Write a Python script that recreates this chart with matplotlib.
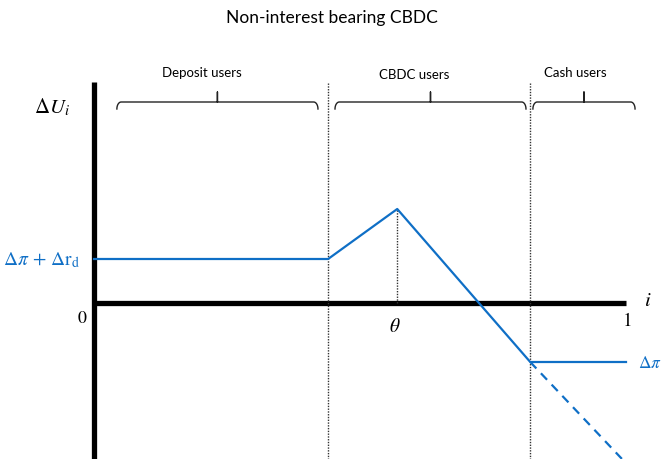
import matplotlib
matplotlib.use("Agg")
import matplotlib.pyplot as plt
import numpy as np

plt.rcParams['font.family'] = ['Lato', 'DejaVu Sans']
plt.rcParams['mathtext.fontset'] = 'stix'

# Thresholds on the i axis (0..1)
i_deposit = 0.44      # deposit / CBDC boundary
i_theta = 0.57        # theta
i_cash = 0.82         # CBDC / cash boundary

# Utility values
u_deposit = 0.44      # Δπ + Δr_d
u_peak = 0.94         # value at theta
u_cash = -0.59        # Δπ
u_dash_end = -1.56    # end of dashed continuation
i_dash_end = 0.9925

curve_x = [0.0, i_deposit, i_theta, i_cash, 1.0]
curve_y = [u_deposit, u_deposit, u_peak, u_cash, u_cash]
dash_x = [i_cash, i_dash_end]
dash_y = [u_cash, u_dash_end]

groups = ["Deposit users", "CBDC users", "Cash users"]
brace_left = [0.043, 0.453, 0.825]
brace_right = [0.421, 0.812, 1.017]
label_x = [0.203, 0.602, 0.904]
label_y = [2.31, 2.29, 2.31]

blue = '#0F6FC6'

fig = plt.figure(figsize=(6.64, 4.60), dpi=100)
ax = fig.add_axes([0, 0, 1, 1])
ax.set_xlim(-94/532, (664-94)/532)
ax.set_ylim(-1.56, 3.04)
ax.axis('off')

# axes
ax.plot([0, 0], [2.21, -1.56], color='black', lw=3.8, solid_capstyle='butt')
ax.plot([0, 1.0], [0, 0], color='black', lw=3.8, solid_capstyle='butt')

# dotted boundaries
for xb in [i_deposit, i_cash]:
    ax.plot([xb, xb], [2.2, -1.56], color='#333333', lw=1.0, ls=(0, (1, 1)))
ax.plot([i_theta, i_theta], [0, u_peak], color='#333333', lw=1.0, ls=(0, (1, 1)))

# curve
ax.plot(curve_x, curve_y, color=blue, lw=1.6)
ax.plot(dash_x, dash_y, color=blue, lw=1.6, ls=(0, (4, 3)))

# braces
by = 2.01
for l, r, g, lx, ly in zip(brace_left, brace_right, groups, label_x, label_y):
    m = (l + r) / 2
    t = np.linspace(0, np.pi/2, 10)
    rad_x, rad_y = 0.008, 0.07
    left_hook_x = l + rad_x*(1 - np.cos(t))
    left_hook_y = by - rad_y*(1 - np.sin(t))
    xs = list(left_hook_x) + [m, m, m] + list(r - rad_x*(1 - np.cos(t[::-1])))
    ys = list(left_hook_y) + [by, by + 0.1, by] + list(by - rad_y*(1 - np.sin(t[::-1])))
    ax.plot(xs, ys, color='#222222', lw=1.0)
    ax.text(lx, ly, g, ha='center', va='center', fontsize=9.5)

# labels
ax.text((332-94)/532, 2.86, "Non-interest bearing CBDC", ha='center', va='center', fontsize=12.5)
ax.text(-0.079, 1.97, r"$\Delta U_i$", ha='center', va='center', fontsize=15)
ax.text(-0.026, u_deposit, r"$\Delta\pi\,+\,\Delta \mathrm{r_d}$", ha='right', va='center', fontsize=14, color=blue)
ax.text(-0.022, -0.15, "0", ha='center', va='center', fontsize=13, fontfamily='STIXGeneral')
ax.text(i_theta - 0.004, -0.22, r"$\theta$", ha='center', va='center', fontsize=14)
ax.text(1.04, 0.04, r"$i$", ha='center', va='center', fontsize=15)
ax.text(1.004, -0.17, "1", ha='center', va='center', fontsize=14, fontfamily='STIXGeneral')
ax.text(1.022, u_cash, r"$\Delta\pi$", ha='left', va='center', fontsize=12.5, color=blue)

fig.savefig("out.png", dpi=100)
